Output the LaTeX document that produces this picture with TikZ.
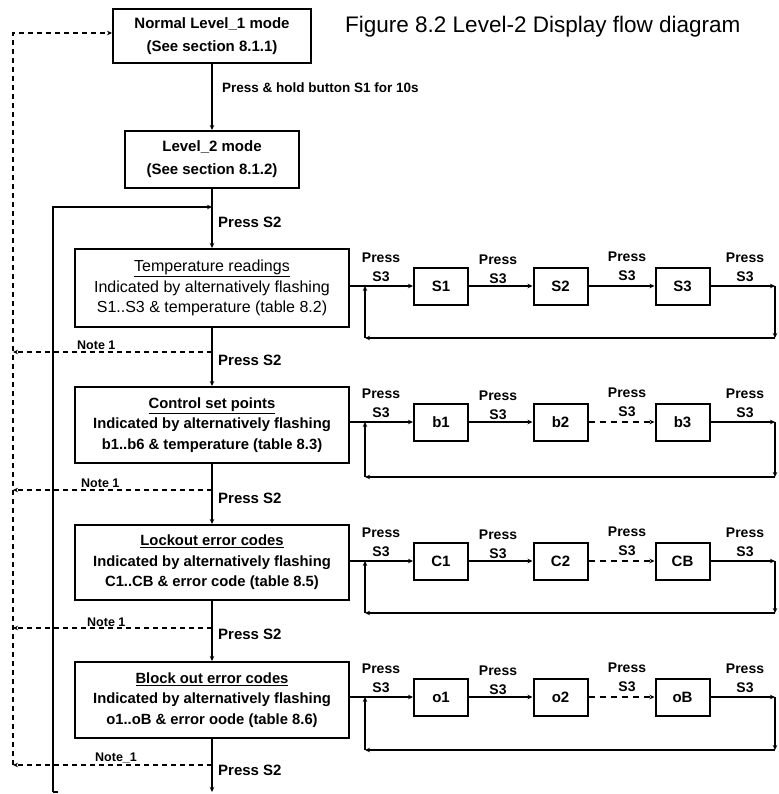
\documentclass[tikz,border=0pt]{standalone}
\usepackage{fontspec}
\setmainfont{Liberation Sans}
\usetikzlibrary{arrows.meta}
\begin{document}
\begin{tikzpicture}[x=1pt,y=-1pt,
  every node/.style={inner sep=0pt},
  modebox/.style={draw, line width=2pt, align=center, font=\bfseries\fontsize{15}{23}\selectfont},
  bigbox/.style={draw, line width=2pt, align=center, minimum width=274pt, font=\bfseries\fontsize{14.8}{20.5}\selectfont},
  smallbox/.style={draw, line width=2pt, minimum width=54pt, minimum height=37pt, font=\bfseries\fontsize{15}{18}\selectfont},
  flow/.style={line width=1.4pt, -{Stealth[length=5pt,width=4.5pt]}},
  plainflow/.style={line width=1.4pt},
  loopline/.style={line width=2pt},
  chainarrow/.style={line width=2pt, -{Stealth[length=5pt,width=4.5pt]}},
  chaindash/.style={dash pattern=on 6pt off 5pt},
  notedash/.style={line width=1.4pt, dash pattern=on 5pt off 4pt},
  lbl/.style={font=\bfseries\fontsize{15}{18}\selectfont},
  s3lbl/.style={align=center, font=\bfseries\fontsize{14}{19}\selectfont},
  notelbl/.style={font=\bfseries\fontsize{12.5}{13}\selectfont}
]
\fill[white] (0,0) rectangle (778,794);
\useasboundingbox (0,0) rectangle (778,794);

% title
\node[anchor=west, font=\fontsize{22.5}{26}\selectfont] (title) at (345,27) {Figure 8.2 Level-2 Display flow diagram};

% main boxes
\node[modebox, minimum width=198pt, minimum height=54pt] (n1) at (212,36) {Normal Level\_1 mode\\(See section 8.1.1)};
\node[modebox, minimum width=174pt, minimum height=57pt] (n2) at (212,159.5) {Level\_2 mode\\(See section 8.1.2)};
\node[bigbox, minimum height=78pt, font=\fontsize{16}{20.5}\selectfont] (t) at (212,288) {\underline{Temperature readings}\\Indicated by alternatively flashing\\S1..S3 \& temperature (table 8.2)};
\node[bigbox, minimum height=76pt] (c) at (212,425) {\underline{Control set points}\\Indicated by alternatively flashing\\b1..b6 \& temperature (table 8.3)};
\node[bigbox, minimum height=75pt] (l) at (212,562.5) {\underline{Lockout error codes}\\Indicated by alternatively flashing\\C1..CB \& error code (table 8.5)};
\node[bigbox, minimum height=76pt] (b) at (212,700) {\underline{Block out error codes}\\Indicated by alternatively flashing\\o1..oB \& error oode (table 8.6)};

% main flow
\coordinate (j0) at (212,207);
\coordinate (bot) at (212,792);
\draw[flow] (n1) -- (n2);
\draw[plainflow] (n2) -- (j0);
\draw[flow] (j0) -- (t);
\draw[flow] (t) -- (c);
\draw[flow] (c) -- (l);
\draw[flow] (l) -- (b);
\draw[flow] (b) -- (bot);

% return loop on the left
\coordinate (lb) at (53,792);
\coordinate (lbt) at (58,792);
\coordinate (lt) at (53,207);
\draw[loopline, -{Stealth[length=5pt,width=4.5pt]}] (lb) -- (lt) -- (j0);
\draw[plainflow] (lb) -- (lbt);

% labels on main flow
\node[lbl, anchor=west, font=\bfseries\fontsize{13.5}{16}\selectfont] (ph) at (222,88) {Press \& hold button S1 for 10s};
\node[lbl, anchor=west] (p0) at (218,222) {Press S2};
\node[lbl, anchor=west] (p1) at (218,360) {Press S2};
\node[lbl, anchor=west] (p2) at (218,498) {Press S2};
\node[lbl, anchor=west] (p3) at (218,634) {Press S2};
\node[lbl, anchor=west] (p4) at (218,770) {Press S2};

% dashed "Note 1" paths
\coordinate (dtop) at (13,33);
\coordinate (dbot) at (13,765);
\draw[notedash, -{Stealth[length=5pt,width=4.5pt]}] (dbot) -- (dtop) -- (n1.west |- dtop);
\coordinate (d1) at (212,352); \coordinate (e1) at (13,352);
\coordinate (d2) at (212,490); \coordinate (e2) at (13,490);
\coordinate (d3) at (212,628); \coordinate (e3) at (13,628);
\coordinate (d4) at (212,765); \coordinate (e4) at (13,765);
\draw[notedash, -{Stealth[length=5pt,width=4.5pt]}] (d1) -- (e1);
\draw[notedash, -{Stealth[length=5pt,width=4.5pt]}] (d2) -- (e2);
\draw[notedash, -{Stealth[length=5pt,width=4.5pt]}] (d3) -- (e3);
\draw[notedash, -{Stealth[length=5pt,width=4.5pt]}] (d4) -- (e4);
\node[notelbl, anchor=base west] (nt1) at (77,349) {Note 1};
\node[notelbl, anchor=base west] (nt2) at (81,487) {Note 1};
\node[notelbl, anchor=base west] (nt3) at (87,626) {Note 1};
\node[notelbl, anchor=base west] (nt4) at (95,761) {Note\_1};

% right-hand chains
\foreach \rw/\Y/\R/\na/\nb/\nc/\src/\sty in {1/286/338/S1/S2/S3/t/solid, 2/422/477/b1/b2/b3/c/chaindash, 3/561/613/C1/C2/CB/l/chaindash, 4/697/750/o1/o2/oB/b/chaindash}{
  \node[smallbox] (ra\rw) at (441,\Y) {\na};
  \node[smallbox] (rb\rw) at (560.5,\Y) {\nb};
  \node[smallbox] (rc\rw) at (682.5,\Y) {\nc};
  \coordinate (jr\rw) at (365,\Y);
  \coordinate (rr\rw) at (775,\Y);
  \coordinate (rd\rw) at (775,\R);
  \coordinate (ld\rw) at (365,\R);
  \draw[loopline] (\src.east |- ra\rw.west) -- (jr\rw);
  \draw[chainarrow] (jr\rw) -- (ra\rw);
  \draw[chainarrow] (ra\rw) -- (rb\rw);
  \draw[chainarrow, \sty] (rb\rw) -- (rc\rw);
  \draw[chainarrow] (rc\rw) -- (rr\rw);
  \draw[chainarrow] (rr\rw) -- (rd\rw);
  \draw[chainarrow] (rd\rw) -- (ld\rw);
  \draw[chainarrow] (ld\rw) -- (jr\rw);
  \node[s3lbl, anchor=south] (la\rw) at (381,{\Y-4}) {Press\\S3};
  \node[s3lbl, anchor=south] (lb\rw) at (498,{\Y-2}) {Press\\S3};
  \node[s3lbl, anchor=south] (lc\rw) at (627,{\Y-5}) {Press\\S3};
  \node[s3lbl, anchor=south] (ld\rw) at (745,{\Y-4}) {Press\\S3};
}
\end{tikzpicture}
\end{document}
